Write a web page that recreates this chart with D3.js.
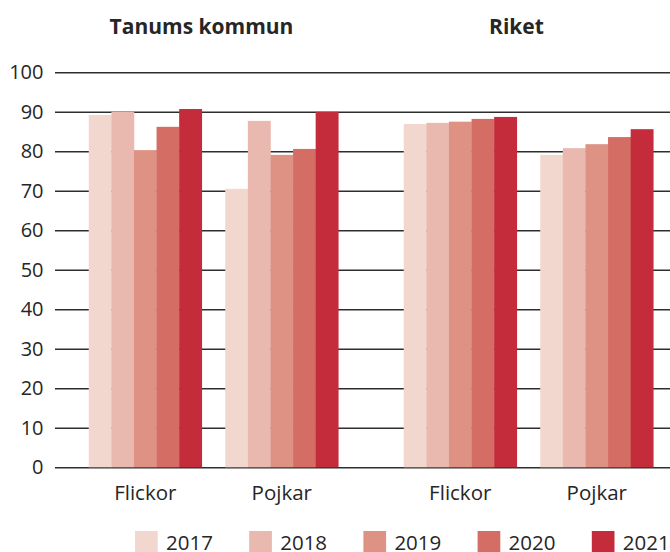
<!DOCTYPE html>
<html>
<head>
<meta charset="utf-8">
<script src="https://d3js.org/d3.v7.min.js"></script>
<style>
  body { margin: 0; background: #fff; }
  text { font-family: "Open Sans", "Noto Sans", sans-serif; fill: #262626; }
</style>
</head>
<body>
<svg id="chart" width="670" height="552"></svg>
<script>
// data
var panels = ["Tanums kommun", "Riket"];
var groups = ["Flickor", "Pojkar"];
var years = ["2017", "2018", "2019", "2020", "2021"];
var colors = ["#f2d7cf", "#e9b9b0", "#dd9284", "#d46e65", "#c42c3c"];
var yTicks = [0, 10, 20, 30, 40, 50, 60, 70, 80, 90, 100];

var tanumsFlickor = [89.2, 90.0, 80.3, 86.2, 90.7];
var tanumsPojkar  = [70.5, 87.7, 79.1, 80.6, 90.0];
var riketFlickor  = [86.9, 87.2, 87.5, 88.2, 88.7];
var riketPojkar   = [79.1, 80.8, 81.8, 83.6, 85.6];

var values = {
  "Tanums kommun": { Flickor: tanumsFlickor, Pojkar: tanumsPojkar },
  "Riket": { Flickor: riketFlickor, Pojkar: riketPojkar }
};

var svg = d3.select("#chart");
var plotLeft = 55, plotRight = 670, plotTop = 72.3, plotBottom = 467.3;

var y = d3.scaleLinear().domain([0, 100]).range([plotBottom, plotTop]);

// panel scale, then category scale inside each panel, then years
var xPanel = d3.scaleBand().domain(panels).range([77, 665]).paddingInner(0.1333);
var xGroup = d3.scaleBand().domain(groups).range([0, xPanel.bandwidth()])
    .paddingInner(0.172).paddingOuter(0.086);
var xYear = d3.scaleBand().domain(years).range([0, xGroup.bandwidth()]);
var color = d3.scaleOrdinal().domain(years).range(colors);

// gridlines + y axis labels
var yAxis = svg.append("g")
  .attr("transform", "translate(" + plotLeft + ",0)")
  .call(d3.axisLeft(y).tickValues(yTicks).tickSize(-(plotRight - plotLeft)).tickPadding(11.5));
yAxis.select(".domain").remove();
yAxis.selectAll(".tick line").attr("stroke", "#2e2e2e").attr("stroke-width", 1.4);
yAxis.selectAll(".tick text")
  .style("font-family", "'Open Sans', sans-serif")
  .style("font-size", "20px")
  .attr("fill", "#262626");

// bars
panels.forEach(function(p) {
  var pg = svg.append("g").attr("transform", "translate(" + xPanel(p) + ",0)");
  groups.forEach(function(g) {
    var gg = pg.append("g").attr("transform", "translate(" + xGroup(g) + ",0)");
    gg.selectAll("rect")
      .data(values[p][g])
      .enter().append("rect")
      .attr("x", function(d, i) { return xYear(years[i]); })
      .attr("y", function(d) { return y(d); })
      .attr("width", xYear.bandwidth() + 0.3)
      .attr("height", function(d) { return y(0) - y(d); })
      .attr("fill", function(d, i) { return color(years[i]); });

    gg.append("text")
      .attr("x", xGroup.bandwidth() / 2)
      .attr("y", 500)
      .attr("text-anchor", "middle")
      .style("font-size", "20.5px")
      .text(g);
  });

  // panel title, a little left of the panel centre
  svg.append("text")
    .attr("x", xPanel(p) + xPanel.bandwidth() / 2 - 12)
    .attr("y", 34)
    .attr("text-anchor", "middle")
    .style("font-size", "21px")
    .style("font-weight", "bold")
    .text(p);
});

// legend
var legend = svg.append("g");
years.forEach(function(yr, i) {
  var lx = 135 + i * 114.2;
  legend.append("rect")
    .attr("x", lx).attr("y", 531)
    .attr("width", 22.7).attr("height", 21)
    .attr("fill", color(yr));
  legend.append("text")
    .attr("x", lx + 31).attr("y", 549.5)
    .style("font-size", "20.5px")
    .text(yr);
});
</script>
</body>
</html>
